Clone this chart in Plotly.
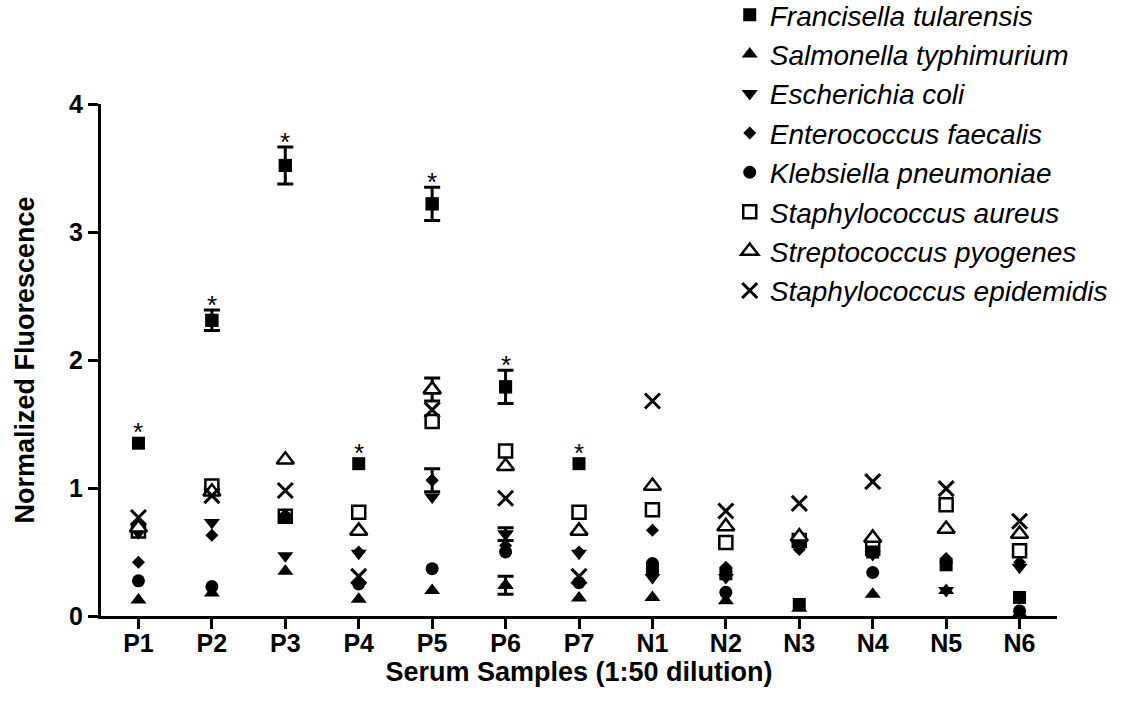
import plotly.graph_objects as go

categories = ["P1", "P2", "P3", "P4", "P5", "P6", "P7", "N1", "N2", "N3", "N4", "N5", "N6"]

francisella = [1.35, 2.31, 3.52, 1.19, 3.22, 1.79, 1.19, 0.37, 0.33, 0.09, 0.50, 0.40, 0.145]
francisella_err = [None, 0.08, 0.145, None, 0.13, 0.13, None, None, None, None, None, None, None]
francisella_sig = [True, True, True, True, True, True, True, False, False, False, False, False, False]
salmonella = [0.125, 0.18, 0.35, 0.13, 0.20, 0.24, 0.14, 0.145, 0.12, 0.06, 0.17, 0.20, 0.02]
salmonella_err = [None, None, None, None, None, 0.07, None, None, None, None, None, None, None]
ecoli = [0.65, 0.73, 0.47, 0.49, 0.93, 0.64, 0.49, 0.30, 0.30, 0.55, 0.48, 0.20, 0.38]
ecoli_err = [None, None, None, None, None, 0.05, None, None, None, None, None, None, None]
enterococcus = [0.42, 0.63, 0.79, 0.50, 1.06, 0.55, 0.50, 0.67, 0.38, 0.52, 0.50, 0.45, 0.42]
enterococcus_err = [None, None, None, None, 0.09, None, None, None, None, None, None, None, None]
klebsiella = [0.275, 0.23, 0.77, 0.25, 0.37, 0.50, 0.26, 0.41, 0.185, 0.57, 0.34, 0.42, 0.04]
s_aureus = [0.665, 1.015, 0.78, 0.81, 1.52, 1.29, 0.81, 0.83, 0.575, 0.59, 0.53, 0.87, 0.51]
strep = [0.69, 0.97, 1.22, 0.665, 1.77, 1.17, 0.665, 1.015, 0.70, 0.62, 0.61, 0.68, 0.64]
strep_err = [None, None, None, None, 0.09, None, None, None, None, None, None, None, None]
s_epid = [0.77, 0.94, 0.98, 0.31, 1.61, 0.92, 0.31, 1.68, 0.82, 0.88, 1.05, 0.995, 0.74]

FONT = "Liberation Sans, Arial, sans-serif"

series = [
    ("Francisella tularensis", francisella, francisella_err, dict(symbol="square", size=13, color="black")),
    ("Salmonella typhimurium", salmonella, salmonella_err, dict(symbol="triangle-up", size=14, color="black")),
    ("Escherichia coli", ecoli, ecoli_err, dict(symbol="triangle-down", size=14, color="black")),
    ("Enterococcus faecalis", enterococcus, enterococcus_err, dict(symbol="diamond", size=10, color="black")),
    ("Klebsiella pneumoniae", klebsiella, None, dict(symbol="circle", size=13, color="black")),
    ("Staphylococcus aureus", s_aureus, None, dict(symbol="square-open", size=13, color="black", line=dict(color="black", width=2.5))),
    ("Streptococcus pyogenes", strep, strep_err, dict(symbol="triangle-up", size=15, color="white", line=dict(color="black", width=2.5))),
    ("Staphylococcus epidemidis", s_epid, None, dict(symbol="x-thin-open", size=15, color="black", line=dict(color="black", width=3))),
]

fig = go.Figure()
for i, (name, vals, err, marker) in enumerate(series):
    if err is not None:
        idx = [k for k, e in enumerate(err) if e is not None]
        fig.add_trace(go.Scatter(
            x=[categories[k] for k in idx], y=[vals[k] for k in idx],
            mode="markers", marker=dict(marker), cliponaxis=False,
            error_y=dict(type="data", array=[err[k] for k in idx], visible=True,
                         color="black", thickness=3, width=8),
            legendgroup=f"g{i}", showlegend=False, hoverinfo="skip",
        ))
    fig.add_trace(go.Scatter(
        x=categories, y=vals, mode="markers", name=name,
        marker=marker, cliponaxis=False, legendgroup=f"g{i}",
    ))

for c, v, e, s in zip(categories, francisella, francisella_err, francisella_sig):
    if s:
        has_err = e is not None and e > 0
        fig.add_annotation(
            x=c, y=v + (e if has_err else 0), text="*", showarrow=False, xref="x", yref="y",
            yanchor="middle", yshift=(5 if has_err else 11),
            font=dict(family=FONT, size=26, color="black"),
        )

fig.update_layout(
    width=1127, height=702,
    margin=dict(l=101, r=70, t=104, b=86, autoexpand=False),
    paper_bgcolor="white", plot_bgcolor="white",
    font=dict(family=FONT, color="black"),
    showlegend=True,
    legend=dict(
        xref="container", yref="paper", x=0.6475, y=1.2227,
        xanchor="left", yanchor="top", traceorder="normal",
        font=dict(family=FONT, size=28, color="black", style="italic"),
        bgcolor="rgba(0,0,0,0)", itemsizing="trace", tracegroupgap=0,
    ),
)

fig.update_xaxes(
    type="category", categoryorder="array", categoryarray=categories,
    range=[-0.51, 12.51],
    showline=True, linecolor="black", linewidth=3,
    ticks="outside", ticklen=10, tickwidth=3, tickcolor="black",
    ticklabelstandoff=-7,
    showgrid=False, zeroline=False,
    tickfont=dict(family=FONT, size=25, color="black", weight="bold"),
    title=dict(text="Serum Samples (1:50 dilution)", standoff=6,
               font=dict(family=FONT, size=27, color="black", weight="bold")),
)
fig.update_yaxes(
    range=[0, 4], tickvals=[0, 1, 2, 3, 4],
    showline=True, linecolor="black", linewidth=3,
    ticks="outside", ticklen=10, tickwidth=3, tickcolor="black",
    showgrid=False, zeroline=False,
    tickfont=dict(family=FONT, size=25, color="black", weight="bold"),
    title=dict(text="Normalized Fluorescence", standoff=27,
               font=dict(family=FONT, size=27, color="black", weight="bold")),
)

fig.write_html("out.html")
